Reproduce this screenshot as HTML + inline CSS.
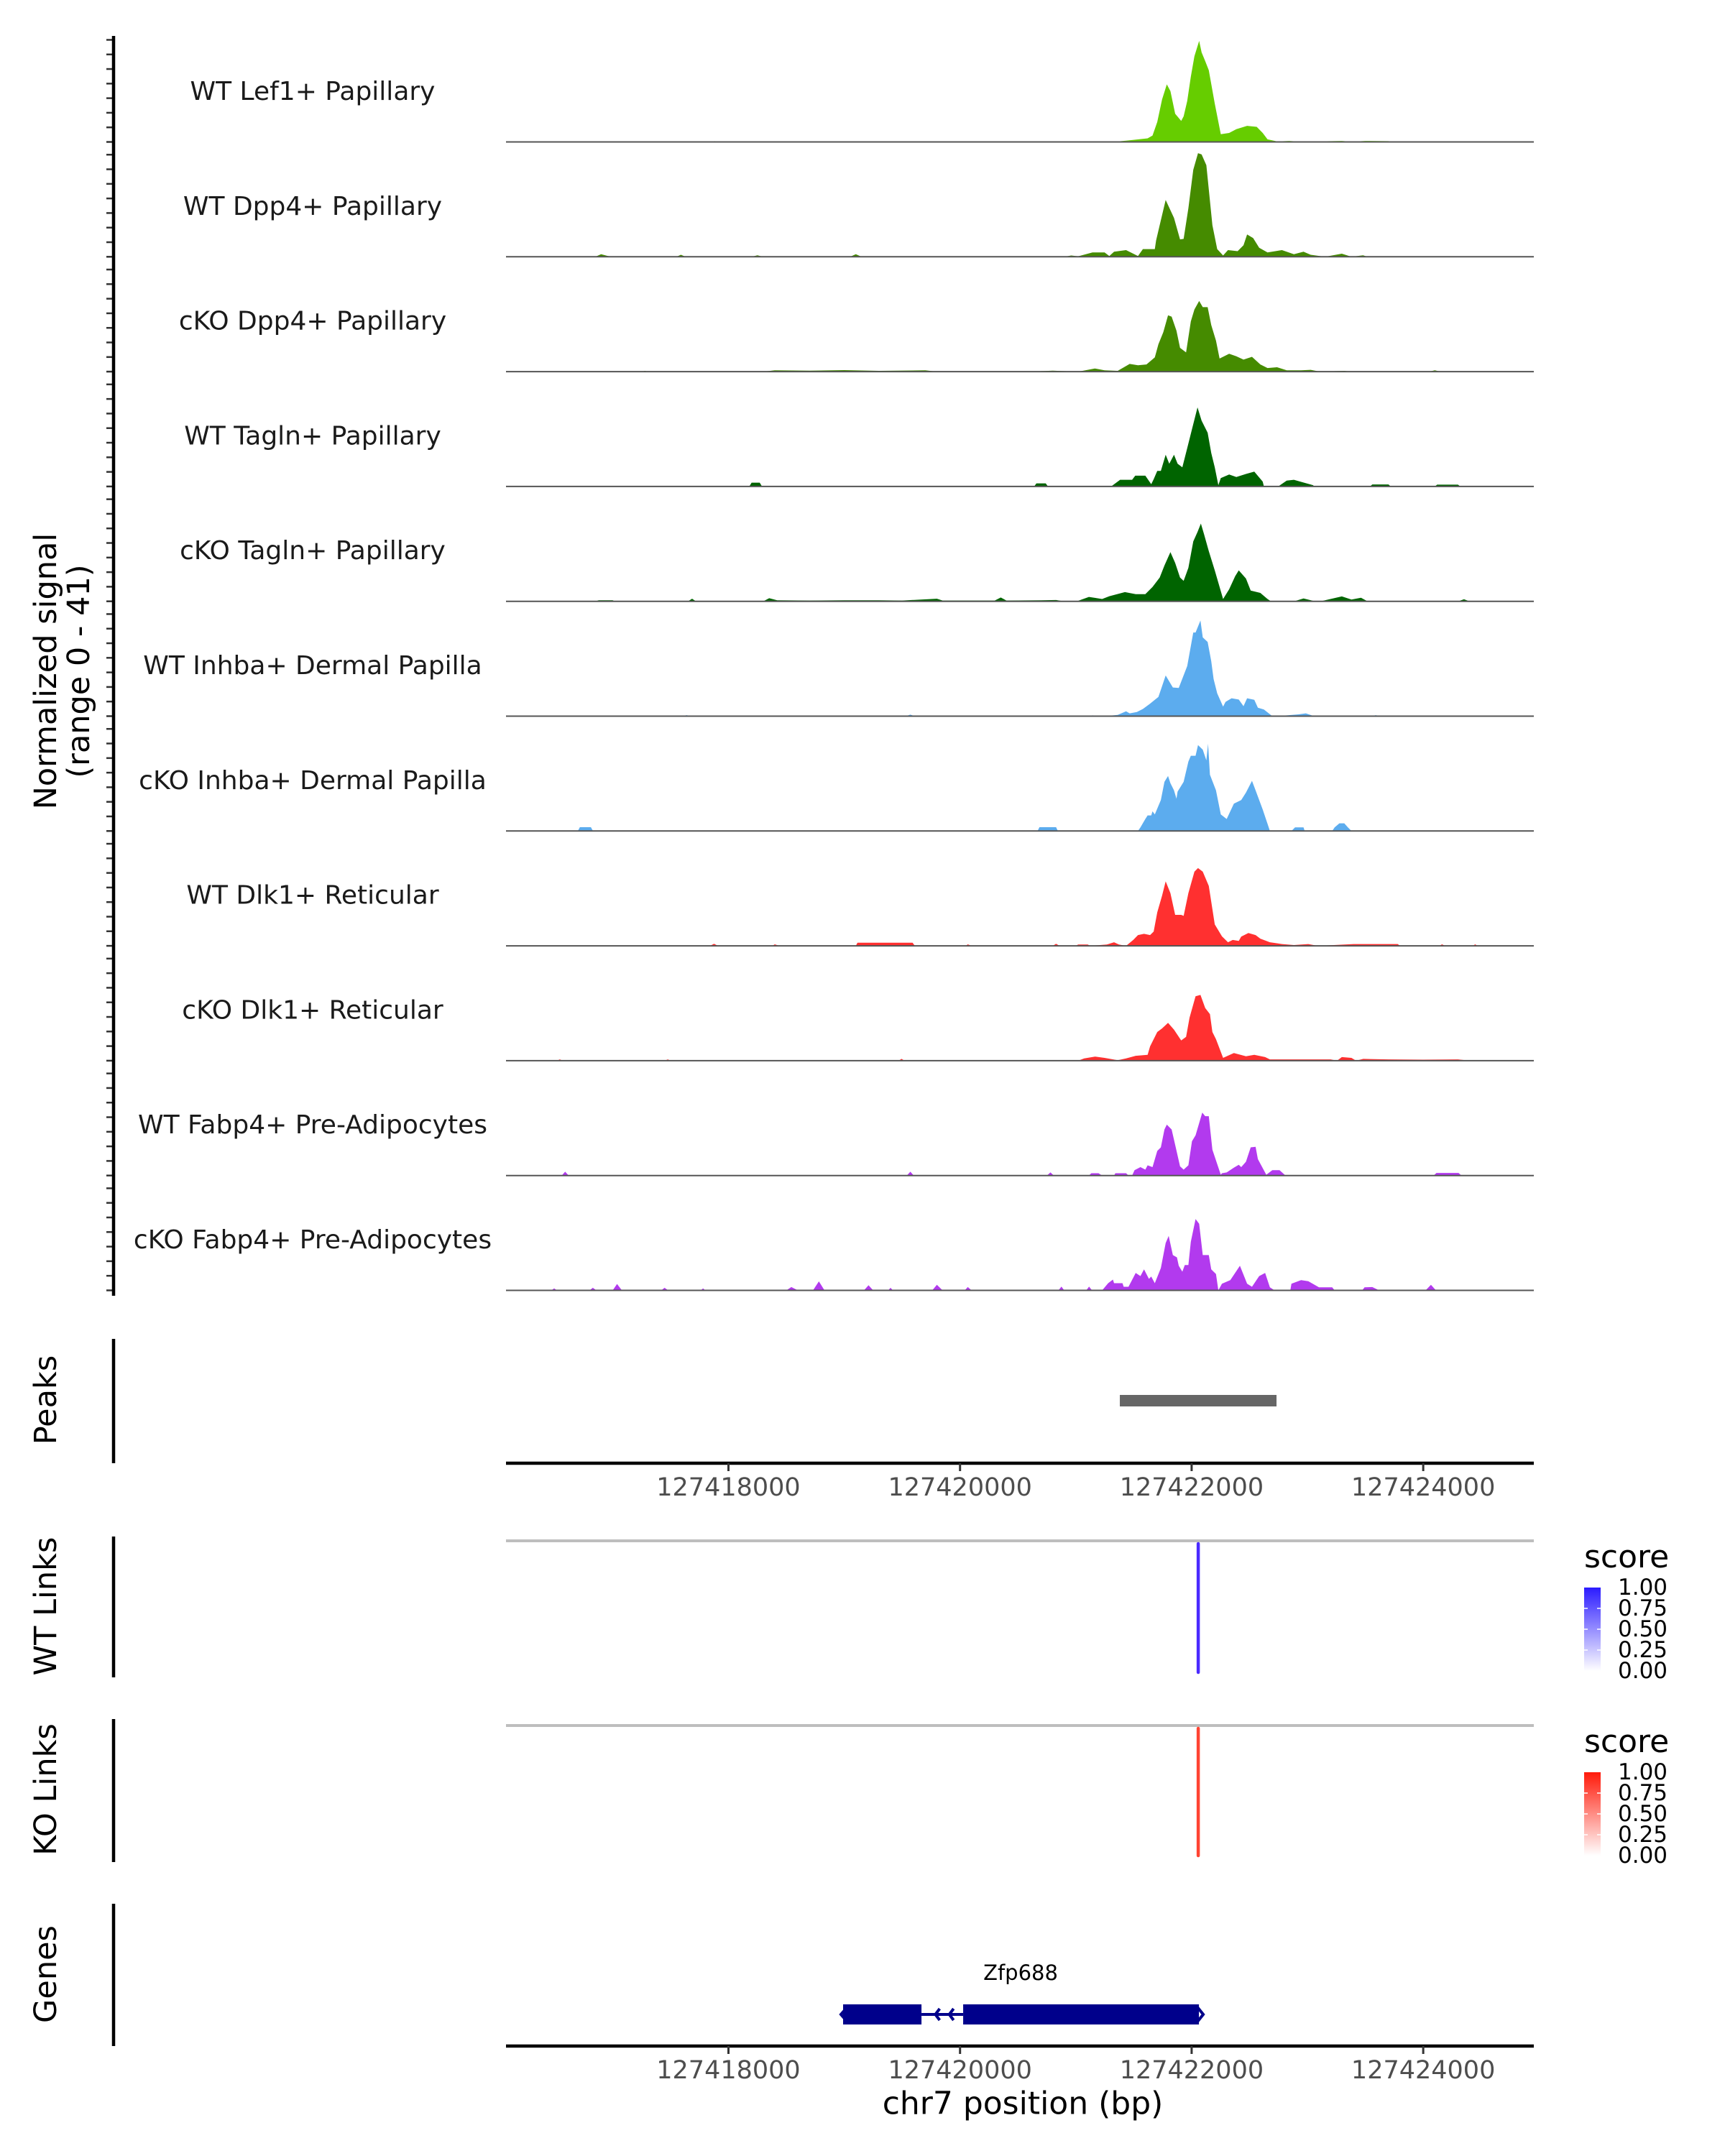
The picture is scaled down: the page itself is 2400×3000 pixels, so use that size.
<!DOCTYPE html>
<html><head><meta charset="utf-8"><style>
html,body{margin:0;padding:0;background:#fff;}
svg{display:block;font-family:"DejaVu Sans","Liberation Sans",sans-serif;}
</style></head><body>
<svg id="chart" xmlns="http://www.w3.org/2000/svg" width="2400" height="3000" viewBox="0 0 2400 3000"></svg>
<script>
// ---- data (positions are bp offsets from regionStart) ----
const regionStart = 127416000;
const regionFrom = 79, regionTo = 8955;
const trackNames = ["WT Lef1+ Papillary","WT Dpp4+ Papillary","cKO Dpp4+ Papillary","WT Tagln+ Papillary","cKO Tagln+ Papillary","WT Inhba+ Dermal Papilla","cKO Inhba+ Dermal Papilla","WT Dlk1+ Reticular","cKO Dlk1+ Reticular","WT Fabp4+ Pre-Adipocytes","cKO Fabp4+ Pre-Adipocytes"];
const trackColors = ["#66CD00","#458B00","#458B00","#006400","#006400","#5CACEE","#5CACEE","#FF3030","#FF3030","#B23AEE","#B23AEE"];
const signalMax = 41;
const xTicks = [127418000,127420000,127422000,127424000];
const lef1WT = [[79,0],[1850,0],[1880,0.3],[1910,0],[4950,0],[5020,0.1],[5186,0.2],[5310,0],[5434,0.5],[5620,1.4],[5662,2.5],[5703,7.8],[5745,16.6],[5786,22.5],[5817,19.9],[5858,11],[5910,8.2],[5931,10],[5962,16],[5993,25.5],[6024,33.5],[6065,39.5],[6086,35],[6117,31.6],[6148,28],[6200,15],[6252,3],[6324,3.5],[6386,5],[6479,6.3],[6562,5.9],[6614,3.5],[6655,1],[6738,0.2],[6842,0.4],[6945,0.1],[7297,0.4],[7380,0.1],[7500,0.4],[7700,0.3],[7750,0],[8955,0]];
const dpp4WT = [[79,0],[850,0],[900,1],[960,0.3],[1000,0],[1550,0],[1590,0.8],[1630,0],[2200,0],[2250,0.6],[2300,0],[3050,0],[3100,1],[3150,0],[4900,0],[4960,0.5],[5020,0.2],[5144,1.7],[5248,1.7],[5289,0.3],[5330,2],[5434,2.6],[5537,0.3],[5579,3],[5682,3],[5693,6.4],[5724,12.4],[5776,22.2],[5848,15.2],[5900,6.8],[5931,7],[5972,19],[6014,34],[6055,40.5],[6086,40],[6127,35.8],[6179,12.4],[6221,3],[6272,0.5],[6314,2.6],[6397,2.2],[6448,4.5],[6479,8.7],[6531,7.3],[6583,3.5],[6655,1.7],[6780,2.6],[6883,1],[6966,2],[7028,0.8],[7152,0],[7297,1.2],[7380,0],[7480,0.6],[7520,0],[8955,0]];
const dpp4KO = [[79,0],[1250,0],[1280,0.3],[1300,0],[2300,0],[2400,0.5],[2700,0.4],[3000,0.6],[3300,0.3],[3700,0.5],[3800,0],[4600,0],[4800,0.4],[5020,0],[5103,0.7],[5165,1.2],[5248,0.5],[5362,0.3],[5465,3],[5537,2.5],[5610,2.8],[5682,5.6],[5713,10.7],[5755,15.4],[5796,22],[5827,21.5],[5869,16],[5900,9.3],[5952,7.5],[5993,19.6],[6024,24.3],[6065,27.6],[6096,25.2],[6138,25.2],[6169,18.2],[6210,12.1],[6241,5.1],[6324,7],[6386,6],[6448,4.7],[6521,5.8],[6593,2.8],[6655,1.4],[6738,1.7],[6821,0.5],[6945,0.5],[7028,0.7],[7111,0],[7318,0.3],[7380,0],[8050,0],[8100,0.5],[8150,0],[8955,0]];
const taglnWT = [[79,0],[2180,0],[2200,1.5],[2270,1.5],[2290,0],[4640,0],[4660,1.2],[4740,1.2],[4760,0],[5020,0],[5310,0.2],[5382,2.6],[5486,2.6],[5513,4.2],[5600,4.2],[5651,0.9],[5672,2.8],[5703,6.1],[5734,6.1],[5776,12.4],[5807,8.9],[5848,12.4],[5879,8.9],[5920,7.5],[5962,15],[6003,22.4],[6051,30.9],[6086,25.7],[6138,21],[6169,13.1],[6200,7.5],[6231,0.5],[6252,3.3],[6324,4.7],[6386,3.7],[6469,4.9],[6541,5.8],[6614,1.9],[6624,0],[6748,0],[6821,2.3],[6883,2.6],[6976,1.4],[7049,0.5],[7059,0],[7540,0],[7560,0.8],[7700,0.8],[7720,0],[8100,0],[8120,0.7],[8300,0.7],[8320,0],[8955,0]];
const taglnKO = [[79,0],[850,0],[880,0.4],[1000,0.4],[1020,0],[1650,0],[1686,1],[1720,0],[2300,0],[2352,1.2],[2420,0.4],[2700,0.3],[3000,0.4],[3300,0.4],[3500,0.3],[3800,1],[3850,0.3],[4300,0.3],[4352,1.5],[4400,0.3],[4700,0.4],[4829,0.5],[4900,0],[5020,0.2],[5113,1.7],[5227,0.9],[5289,2],[5424,3.6],[5517,2.8],[5600,2.8],[5662,5.6],[5724,9.3],[5765,14],[5817,19.2],[5858,15],[5900,9.3],[5931,8],[5972,13.1],[6014,23.4],[6051,27.1],[6080,30.4],[6107,26.2],[6148,19.6],[6200,12.1],[6272,0.9],[6324,4.7],[6376,9.8],[6407,12.1],[6469,8.9],[6510,4.2],[6593,3.3],[6655,0.9],[6686,0],[6883,0],[6966,1.1],[7069,0],[7111,0],[7297,1.9],[7380,0.7],[7463,1.4],[7520,0],[8300,0],[8352,0.8],[8400,0],[8955,0]];
const inhbaWT = [[79,0],[1600,0],[1638,0.4],[1680,0],[3530,0],[3571,0.6],[3610,0],[5100,0],[5144,0.3],[5248,0],[5362,0.5],[5434,1.9],[5465,1.1],[5527,1.6],[5579,2.8],[5641,4.9],[5682,6.4],[5713,7.5],[5745,11.7],[5776,15.9],[5838,11.2],[5889,11],[5962,19.6],[6014,32.7],[6034,32.7],[6076,37.4],[6096,30.8],[6138,29],[6169,21.5],[6190,14.5],[6221,8.9],[6272,3.7],[6293,5.6],[6345,7],[6407,6.5],[6448,3.9],[6479,7],[6541,6.4],[6572,3.3],[6624,2.6],[6697,0],[6821,0.3],[6924,0.7],[6986,1.1],[7059,0],[7550,0],[7590,0.4],[7630,0],[8955,0]];
const inhbaKO = [[79,0],[700,0],[717,1.5],[812,1.5],[830,0],[4670,0],[4686,1.5],[4829,1.5],[4845,0],[5537,0],[5558,1.4],[5600,4.7],[5620,6.1],[5651,6.1],[5662,7.7],[5682,6.5],[5734,12.1],[5765,19.2],[5796,21.5],[5817,18.7],[5848,15.9],[5869,12.6],[5879,15.4],[5931,19.2],[5972,27.1],[5993,29.4],[6034,29.4],[6055,33.6],[6096,31.8],[6127,27.6],[6142,34.1],[6158,22],[6210,15.9],[6252,6.5],[6303,4.7],[6365,10.7],[6428,12.1],[6469,15],[6521,19.6],[6552,15.9],[6614,8.4],[6655,2.8],[6676,0],[6862,0],[6893,1.4],[6966,1.4],[6976,0],[7214,0],[7235,1.4],[7276,3],[7318,3],[7349,1.4],[7380,0],[8955,0]];
const dlk1WT = [[79,0],[1840,0],[1876,0.8],[1910,0],[2380,0],[2400,0.6],[2440,0],[3100,0],[3114,1.2],[3590,1.2],[3610,0],[4050,0],[4067,0.6],[4100,0],[4800,0],[4829,0.8],[4860,0],[5000,0],[5020,0.5],[5103,0.5],[5124,0],[5268,0.5],[5330,1.4],[5372,0.5],[5434,0],[5496,2.3],[5537,4.2],[5589,4.7],[5641,4.2],[5672,5.6],[5703,13.1],[5745,19.6],[5776,25.2],[5817,20.6],[5858,12.1],[5910,12.1],[5931,11.7],[5972,20.6],[6024,29],[6055,30.4],[6096,29],[6148,23.4],[6200,8.4],[6262,3.7],[6314,1.4],[6355,2.3],[6407,1.9],[6428,3.6],[6490,5],[6552,4.2],[6593,2.8],[6676,1.4],[6780,0.7],[6883,0.3],[7007,0.7],[7089,0],[7400,0.7],[7500,0.7],[7780,0.7],[7800,0],[8140,0],[8162,0.6],[8190,0],[8430,0],[8448,0.6],[8470,0],[8955,0]];
const dlk1KO = [[79,0],[520,0],[543,0.5],[570,0],[1450,0],[1476,0.5],[1500,0],[3470,0],[3495,0.7],[3520,0],[5020,0],[5072,0.9],[5165,1.6],[5248,1.1],[5362,0.2],[5434,0.9],[5517,1.9],[5620,2.3],[5641,5.6],[5703,11.2],[5745,12.6],[5796,14.8],[5848,12.1],[5910,7.9],[5952,9.3],[5982,16.8],[6034,25.2],[6076,25.7],[6117,20.6],[6158,18.2],[6179,11.2],[6210,8.4],[6272,1.1],[6365,3],[6469,1.7],[6541,2.3],[6635,1.4],[6676,0.5],[7200,0.5],[7256,0],[7297,1.4],[7380,1.1],[7420,0],[7483,0.7],[7700,0.5],[8000,0.4],[8300,0.5],[8400,0],[8955,0]];
const fabp4WT = [[79,0],[560,0],[590,1.5],[620,0],[3540,0],[3571,1.5],[3600,0],[4750,0],[4781,1.2],[4810,0],[5113,0],[5134,0.9],[5196,0.9],[5227,0],[5330,0],[5341,0.9],[5434,0.9],[5455,0],[5486,0],[5507,2.1],[5558,3.3],[5600,2.3],[5620,4],[5662,3.3],[5703,9.6],[5734,11],[5765,18],[5786,19.9],[5827,18],[5858,12],[5900,3.6],[5931,2.3],[5972,4],[6003,13.4],[6034,15.7],[6092,24.6],[6117,23.2],[6148,23.2],[6179,10.1],[6221,4.5],[6252,0.3],[6262,0.9],[6303,1.2],[6365,3.1],[6407,4.2],[6428,3.3],[6469,5.4],[6510,11],[6552,11.2],[6572,6.4],[6645,0.3],[6697,2.1],[6759,2.1],[6811,0],[8090,0],[8114,1],[8305,1],[8330,0],[8955,0]];
const fabp4KO = [[79,0],[470,0],[495,0.8],[520,0],[800,0],[829,1],[860,0],[1000,0],[1038,2.5],[1080,0],[1420,0],[1448,1],[1480,0],[1760,0],[1781,0.8],[1800,0],[2500,0],[2543,1.3],[2600,0],[2730,0],[2781,3.5],[2830,0],[3170,0],[3210,2],[3250,0],[3380,0],[3400,1],[3420,0],[3760,0],[3800,2.2],[3850,0],[4040,0],[4067,1.3],[4100,0],[4850,0],[4876,1.5],[4900,0],[5090,0],[5114,1.5],[5140,0],[5227,0],[5279,2.8],[5320,4.2],[5330,2.8],[5403,2.8],[5413,1.4],[5455,1.4],[5517,6.8],[5558,5.6],[5589,8.2],[5631,4.5],[5651,5.4],[5682,2.8],[5734,8.7],[5776,18.5],[5802,21.3],[5838,13.8],[5873,12.9],[5889,9.6],[5920,7.3],[5941,9.9],[5972,9.9],[5993,19],[6034,27.9],[6065,26],[6096,13.8],[6148,13.8],[6169,8.2],[6210,6.4],[6231,0],[6262,2.6],[6334,4],[6417,9.6],[6479,2.6],[6521,1.4],[6583,5.6],[6635,6.8],[6676,1.2],[6717,0],[6852,0],[6862,2.6],[6945,4],[7007,3.6],[7100,1.2],[7214,1.2],[7235,0],[7473,0],[7493,1.2],[7560,1.3],[7620,0],[8020,0],[8067,2.2],[8110,0],[8955,0]];
const trackSignals = [lef1WT,dpp4WT,dpp4KO,taglnWT,taglnKO,inhbaWT,inhbaKO,dlk1WT,dlk1KO,fabp4WT,fabp4KO];
const peakRanges = [[127421380,127422733]];
const geneExons = [[127418990,127419667],[127420027,127422063]];
const geneIntrons = [[127419667,127420027]];
const geneName = "Zfp688";
const wtLinks = [[127422057,1.0]];
const koLinks = [[127422057,1.0]];
const legendTicks = ["1.00","0.75","0.50","0.25","0.00"];

// ---- layout ----
const NS = "http://www.w3.org/2000/svg";
const svg = document.getElementById("chart");
const X0 = 704, X1 = 2134;
const bpFrom = regionStart + regionFrom, bpTo = regionStart + regionTo;
function xScale(bp){ return X0 + (bp - bpFrom) / (bpTo - bpFrom) * (X1 - X0); }
const trackBase0 = 197.5, trackStep = 159.8, pxPerUnit = 3.56;
function yScale(i, v){ return trackBase0 + i*trackStep - v*pxPerUnit; }
function mk(tag, attrs, parent){
  const e = document.createElementNS(NS, tag);
  for (const k in attrs) e.setAttribute(k, attrs[k]);
  (parent||svg).appendChild(e);
  return e;
}
function txt(s, attrs, parent){ const e = mk("text", attrs, parent); e.textContent = s; return e; }

// tracks
trackSignals.forEach((pts, i) => {
  const g = mk("g", {});
  
  
  const sorted = pts.slice().sort((a,b)=>a[0]-b[0]);
  const base = yScale(i, 0);
  let d = "M" + xScale(regionStart+sorted[0][0]).toFixed(1) + "," + base.toFixed(1);
  sorted.forEach(p => { d += "L" + xScale(regionStart+p[0]).toFixed(1) + "," + yScale(i, Math.min(p[1], signalMax)).toFixed(1); });
  d += "L" + xScale(regionStart+sorted[sorted.length-1][0]).toFixed(1) + "," + base.toFixed(1) + "Z";
  const area = mk("path", {d: d, fill: trackColors[i], stroke: "none"}, g);
  
  
  const bl = mk("line", {x1: X0, x2: X1, y1: base, y2: base, stroke: "#555", "stroke-width": 2}, g);
  
  
  const lab = txt(trackNames[i], {x: 435, y: base - 70, "font-size": 36, "text-anchor": "middle", "dominant-baseline": "central", fill: "#1a1a1a"}, g);
  
  
  for (let v = 0; v <= 40; v += 5.7) {
    const ty = yScale(i, v);
    if (ty < 50) continue;
    const tk = mk("line", {x1: 148, x2: 158, y1: ty, y2: ty, stroke: "#333", "stroke-width": 2.5}, g);
    
    
  }
});

// left axis lines
const axisSegs = [["signal-y-axis",50,1803],["peaks-y-axis",1863,2036],["wt-links-y-axis",2138,2334],["ko-links-y-axis",2392,2591],["genes-y-axis",2649,2847]];
axisSegs.forEach(s => {
  const l = mk("line", {x1: 158, x2: 158, y1: s[1], y2: s[2], stroke: "#000", "stroke-width": 4.5});
  
  
});

// y axis title
const yt = mk("g", {transform: "translate(87,934) rotate(-90)"});


txt("Normalized signal", {x: 0, y: -23, "font-size": 43, "text-anchor": "middle", "dominant-baseline": "central"}, yt);
txt("(range 0 - 41)", {x: 0, y: 23, "font-size": 43, "text-anchor": "middle", "dominant-baseline": "central"}, yt);

// side titles
[["Peaks",1948,"peaks-title"],["WT Links",2235,"wt-links-title"],["KO Links",2490,"ko-links-title"],["Genes",2747,"genes-title"]].forEach(t => {
  const e = txt(t[0], {x: 0, y: 0, transform: "translate(64," + t[1] + ") rotate(-90)", "font-size": 43, "text-anchor": "middle", "dominant-baseline": "central"});
  
  
});

// peaks
peakRanges.forEach(p => {
  const r = mk("rect", {x: xScale(p[0]), y: 1941, width: xScale(p[1]) - xScale(p[0]), height: 16, fill: "#666666"});
  
  
});

// x axes
function drawXAxis(y, name){
  const g = mk("g", {});
  
  
  mk("line", {x1: X0, x2: X1, y1: y, y2: y, stroke: "#000", "stroke-width": 4.5}, g);
  xTicks.forEach(t => {
    const x = xScale(t);
    mk("line", {x1: x, x2: x, y1: y, y2: y + 11, stroke: "#333", "stroke-width": 3}, g);
    const lb = txt(String(t), {x: x, y: y + 34, "font-size": 35, "text-anchor": "middle", "dominant-baseline": "central", fill: "#4D4D4D"}, g);
    
    
  });
}
drawXAxis(2036, "peaks-x-axis");
drawXAxis(2847, "genes-x-axis");
const xl = txt("chr7 position (bp)", {x: 1423, y: 2927, "font-size": 44, "text-anchor": "middle", "dominant-baseline": "central"});



// links
function drawLinks(links, top, bottom, color, name){
  const g = mk("g", {});
  
  
  mk("line", {x1: X0, x2: X1, y1: top, y2: top, stroke: "#BEBEBE", "stroke-width": 4}, g);
  links.forEach(l => {
    const x = xScale(l[0]);
    const ln = mk("line", {x1: x, x2: x, y1: top + 4, y2: top + 4 + (bottom - top - 4) * l[1], stroke: color, "stroke-width": 4.5, "stroke-linecap": "round"}, g);
    
    
  });
}
drawLinks(wtLinks, 2144, 2327, "#4B2BFF", "wt-links-track");
drawLinks(koLinks, 2401, 2582, "#FF4433", "ko-links-track");

// legends
const defs = mk("defs", {});
function grad(id, c){
  const lg = mk("linearGradient", {id: id, x1: 0, y1: 0, x2: 0, y2: 1}, defs);
  mk("stop", {offset: "0", "stop-color": c}, lg);
  mk("stop", {offset: "1", "stop-color": "#ffffff"}, lg);
}
grad("gWT", "#2B1BFF"); grad("gKO", "#FF1A0A");
function drawLegend(top, gid, name){
  const g = mk("g", {});
  
  
  txt("score", {x: 2204, y: top - 28, "font-size": 44}, g);
  mk("rect", {x: 2204, y: top, width: 23, height: 116, fill: "url(#" + gid + ")"}, g);
  legendTicks.forEach((t, k) => {
    const ty = top + k * 29;
    if (k > 0 && k < 4) {
      mk("line", {x1: 2204, x2: 2209, y1: ty, y2: ty, stroke: "#fff", "stroke-width": 1.5}, g);
      mk("line", {x1: 2222, x2: 2227, y1: ty, y2: ty, stroke: "#fff", "stroke-width": 1.5}, g);
    }
    txt(t, {x: 2251, y: ty, "font-size": 31, "dominant-baseline": "central"}, g);
  });
}
drawLegend(2209, "gWT", "wt-score-legend");
drawLegend(2466, "gKO", "ko-score-legend");

// gene
const gg = mk("g", {});


const gy = 2803;
geneIntrons.forEach(r => {
  const a = xScale(r[0]), b = xScale(r[1]);
  mk("line", {x1: a, x2: b, y1: gy, y2: gy, stroke: "#00008B", "stroke-width": 4}, gg);
  for (let k = 1; k <= 2; k++) {
    const cx = a + (b - a) * k / 3;
    mk("path", {d: "M" + (cx + 6) + "," + (gy - 8) + "L" + cx + "," + gy + "L" + (cx + 6) + "," + (gy + 8), fill: "none", stroke: "#00008B", "stroke-width": 4}, gg);
  }
});
geneExons.forEach(r => {
  const ex = mk("rect", {x: xScale(r[0]), y: gy - 14, width: xScale(r[1]) - xScale(r[0]), height: 28, fill: "#00008B"}, gg);
  
  
});
const gEnd = xScale(geneExons[geneExons.length-1][1]);
mk("path", {d: "M" + (gEnd - 2) + "," + (gy - 10) + "L" + (gEnd + 6) + "," + gy + "L" + (gEnd - 2) + "," + (gy + 10), fill: "none", stroke: "#00008B", "stroke-width": 4}, gg);
const gStart = xScale(geneExons[0][0]);
mk("path", {d: "M" + (gStart + 4) + "," + (gy - 8) + "L" + (gStart - 3) + "," + gy + "L" + (gStart + 4) + "," + (gy + 8), fill: "none", stroke: "#00008B", "stroke-width": 4}, gg);
const gl = txt(geneName, {x: 1420, y: 2745, "font-size": 29, "text-anchor": "middle", "dominant-baseline": "central"}, gg);


</script>
</body></html>
